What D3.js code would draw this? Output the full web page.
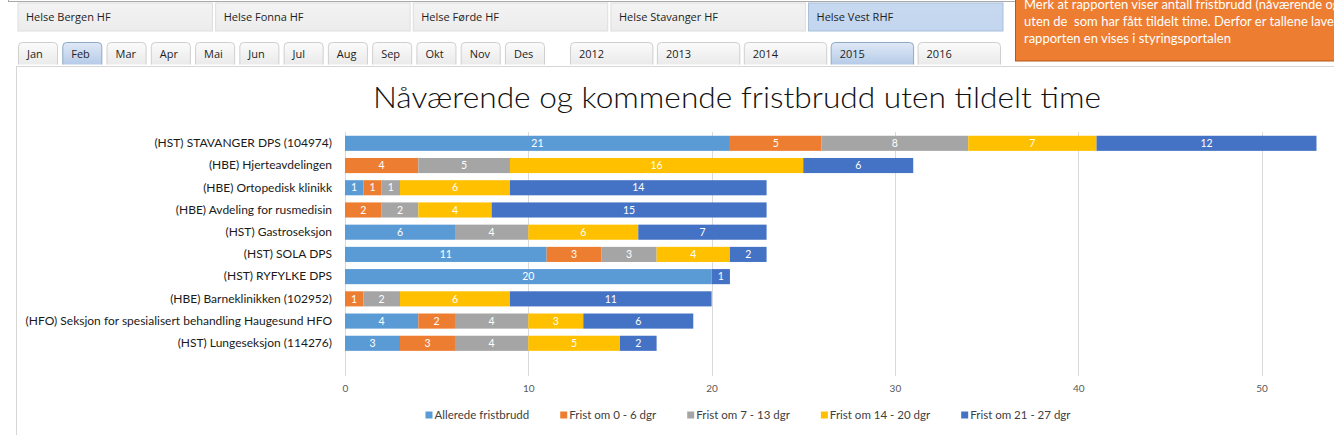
<!DOCTYPE html>
<html><head><meta charset="utf-8">
<script src="https://cdn.jsdelivr.net/npm/d3@7"></script>
<style>
html,body{margin:0;padding:0;background:#fff;overflow:hidden;}
svg{display:block;}
.pre{white-space:pre;}
</style></head><body>
<svg id="c" width="1334" height="435"></svg>
<script>
// ---------- data ----------
const categories = [
  "(HST) STAVANGER DPS (104974)",
  "(HBE) Hjerteavdelingen",
  "(HBE) Ortopedisk klinikk",
  "(HBE) Avdeling for rusmedisin",
  "(HST) Gastroseksjon",
  "(HST) SOLA DPS",
  "(HST) RYFYLKE DPS",
  "(HBE) Barneklinikken (102952)",
  "(HFO) Seksjon for spesialisert behandling Haugesund HFO",
  "(HST) Lungeseksjon (114276)"
];
const seriesNames = ["Allerede fristbrudd", "Frist om 0 - 6 dgr", "Frist om 7 - 13 dgr", "Frist om 14 - 20 dgr", "Frist om 21 - 27 dgr"];
const allerede   = [21, 0, 1, 0, 6, 11, 20, 0, 4, 3];
const frist0_6   = [5, 4, 1, 2, 0, 3, 0, 1, 2, 3];
const frist7_13  = [8, 5, 1, 2, 4, 3, 0, 2, 4, 4];
const frist14_20 = [7, 16, 6, 4, 6, 4, 0, 6, 3, 5];
const frist21_27 = [12, 6, 14, 15, 7, 2, 1, 11, 6, 2];
const xTicks = [0, 10, 20, 30, 40, 50];
const seriesColors = ["#5B9BD5", "#ED7D31", "#A5A5A5", "#FFC000", "#4472C4"];

const healthTabs = ["Helse Bergen HF", "Helse Fonna HF", "Helse Førde HF", "Helse Stavanger HF", "Helse Vest RHF"];
const months = ["Jan", "Feb", "Mar", "Apr", "Mai", "Jun", "Jul", "Aug", "Sep", "Okt", "Nov", "Des"];
const years = ["2012", "2013", "2014", "2015", "2016"];
const selectedHealth = "Helse Vest RHF", selectedMonth = "Feb", selectedYear = "2015";
const title = "Nåværende og kommende fristbrudd uten tildelt time";
const noteLines = [
  "Merk at rapporten viser antall fristbrudd (nåværende og kommende)",
  "uten de  som har fått tildelt time. Derfor er tallene lavere i",
  "rapporten en vises i styringsportalen"
];

// ---------- setup ----------
const svg = d3.select("#c");
const defs = svg.append("defs");
function grad(id, c1, c2) {
  const g = defs.append("linearGradient").attr("id", id).attr("x1", 0).attr("y1", 0).attr("x2", 0).attr("y2", 1);
  g.append("stop").attr("offset", "0%").attr("stop-color", c1);
  g.append("stop").attr("offset", "100%").attr("stop-color", c2);
}
grad("tabG", "#fbfbfb", "#eaeaea");
grad("tabSel", "#dfe9f6", "#b6cbe8");
grad("hTab", "#f3f3f3", "#ececec");
grad("hSel", "#c7d9f0", "#c3d6ef");
defs.append("clipPath").attr("id", "vp").append("rect").attr("x", 0).attr("y", 0).attr("width", 1334).attr("height", 435);

const uiFont = "'Open Sans', 'Noto Sans', sans-serif";
const chFont = "Lato, 'Open Sans', sans-serif";

// top frame remnant
svg.append("line").attr("x1", 8).attr("x2", 1015).attr("y1", 1.5).attr("y2", 1.5).attr("stroke", "#a9a9a9");
svg.append("line").attr("x1", 8.5).attr("x2", 8.5).attr("y1", 0).attr("y2", 2).attr("stroke", "#a9a9a9");

// health tabs
const hx = d3.scaleBand().domain(healthTabs).range([18, 1003]).paddingInner(0.016);
const hg = svg.append("g");
hg.selectAll("rect").data(healthTabs).join("rect")
  .attr("x", d => hx(d)).attr("y", 3).attr("width", hx.bandwidth()).attr("height", 28)
  .attr("fill", d => d === selectedHealth ? "url(#hSel)" : "url(#hTab)")
  .attr("stroke", d => d === selectedHealth ? "#a9bfdc" : "#dedede").attr("stroke-width", 1);
hg.selectAll("text").data(healthTabs).join("text")
  .attr("x", d => hx(d) + 8).attr("y", 21)
  .attr("font-family", uiFont).attr("font-size", 11).attr("fill", "#1e1e1e").text(d => d);

// tab helper (rounded top)
function tabPath(x, y, w, h, r) {
  return `M${x},${y + h}V${y + r}Q${x},${y} ${x + r},${y}H${x + w - r}Q${x + w},${y} ${x + w},${y + r}V${y + h}`;
}
function drawTabs(list, sel, scale) {
  const g = svg.append("g");
  g.selectAll("path").data(list).join("path")
    .attr("d", d => tabPath(scale(d) + 0.5, 42.5, scale.bandwidth() - 1, 22, 4))
    .attr("fill", d => d === sel ? "url(#tabSel)" : "url(#tabG)")
    .attr("stroke", d => d === sel ? "#91a7c4" : "#cfcfcf");
  g.selectAll("text").data(list).join("text")
    .attr("x", d => scale(d) + 9).attr("y", 58)
    .attr("font-family", uiFont).attr("font-size", 11).attr("fill", "#1e1e1e").text(d => d);
}
const mx = d3.scaleBand().domain(months).range([18, 545]).paddingInner(0.095);
drawTabs(months, selectedMonth, mx);
const yx = d3.scaleBand().domain(years).range([570, 1001]).paddingInner(0.04);
drawTabs(years, selectedYear, yx);

// content frame
svg.append("line").attr("x1", 16).attr("x2", 1334).attr("y1", 66.5).attr("y2", 66.5).attr("stroke", "#d6d6d6");
svg.append("line").attr("x1", 16.5).attr("x2", 16.5).attr("y1", 66).attr("y2", 435).attr("stroke", "#d6d6d6");

// orange note box
const ng = svg.append("g").attr("clip-path", "url(#vp)");
ng.append("rect").attr("x", 1015.5).attr("y", -10).attr("width", 340).attr("height", 71)
  .attr("fill", "#ED7D31").attr("stroke", "#b4581d").attr("stroke-width", 1);
ng.selectAll("text").data(noteLines).join("text").attr("class", "pre")
  .attr("x", 1024).attr("y", (d, i) => 9 + i * 16.8)
  .attr("font-family", chFont).attr("font-size", 13).attr("fill", "#fff").text(d => d);

// ---------- chart ----------
const x = d3.scaleLinear().domain([0, 50]).range([345, 1261.5]);
const y = d3.scaleBand().domain(categories).range([132.2, 354.4]).paddingInner(0.32).paddingOuter(0.16);

svg.append("text").attr("x", 737).attr("y", 108).attr("text-anchor", "middle")
  .attr("font-family", chFont).attr("font-weight", 300).attr("font-size", 30)
  .attr("textLength", 728).attr("lengthAdjust", "spacingAndGlyphs")
  .attr("fill", "#111").text(title);

// gridlines
svg.append("g").selectAll("line").data(xTicks).join("line")
  .attr("x1", d => Math.round(x(d)) + 0.5).attr("x2", d => Math.round(x(d)) + 0.5)
  .attr("y1", 132).attr("y2", 376).attr("stroke", "#d9d9d9");

// x axis labels via d3 axis
const xAxis = svg.append("g").attr("transform", "translate(0,380)")
  .call(d3.axisBottom(x).tickValues(xTicks).tickSize(0).tickPadding(5));
xAxis.select(".domain").remove();
xAxis.selectAll("text").attr("font-family", chFont).attr("font-size", 10).attr("fill", "#595959");

// y axis labels
const yAxis = svg.append("g").attr("transform", "translate(345,0)")
  .call(d3.axisLeft(y).tickSize(0).tickPadding(13));
yAxis.select(".domain").remove();
yAxis.selectAll("text").attr("font-family", chFont).attr("font-size", 12).attr("fill", "#1a1a1a");

// stacked bars
const seriesData = [allerede, frist0_6, frist7_13, frist14_20, frist21_27];
const rows = categories.map((c, i) => {
  const o = { cat: c };
  seriesNames.forEach((s, j) => o[s] = seriesData[j][i]);
  return o;
});
const stack = d3.stack().keys(seriesNames)(rows);
const color = d3.scaleOrdinal().domain(seriesNames).range(seriesColors);

const layers = svg.append("g").selectAll("g").data(stack).join("g").attr("fill", d => color(d.key));
layers.selectAll("rect").data(d => d.filter(p => p[1] - p[0] > 0)).join("rect")
  .attr("x", d => x(d[0])).attr("width", d => x(d[1]) - x(d[0]))
  .attr("y", d => y(d.data.cat)).attr("height", y.bandwidth());

const lbl = svg.append("g").selectAll("g").data(stack).join("g");
lbl.selectAll("text").data(d => d.filter(p => p[1] - p[0] > 0)).join("text")
  .attr("x", d => (x(d[0]) + x(d[1])) / 2).attr("y", d => y(d.data.cat) + y.bandwidth() / 2)
  .attr("dy", "0.35em").attr("text-anchor", "middle")
  .attr("font-family", chFont).attr("font-size", 10.5).attr("fill", "#fff")
  .text(d => d[1] - d[0]);

// legend
const lg = svg.append("g");
const items = lg.selectAll("g").data(seriesNames).join("g");
items.append("rect").attr("width", 7).attr("height", 7).attr("y", -3.5).attr("fill", d => color(d));
items.append("text").attr("x", 9).attr("dy", "0.35em")
  .attr("font-family", chFont).attr("font-size", 11.5).attr("fill", "#404040").text(d => d);
const widths = [];
items.each(function () { widths.push(this.querySelector("text").getComputedTextLength()); });
const gap = 31;
const total = d3.sum(widths) + seriesNames.length * 9 + gap * (seriesNames.length - 1);
let start = 748 - total / 2;
items.attr("transform", (d, i) => {
  const tx = start; start += 9 + widths[i] + gap;
  return `translate(${tx},415)`;
});
</script>
</body></html>
